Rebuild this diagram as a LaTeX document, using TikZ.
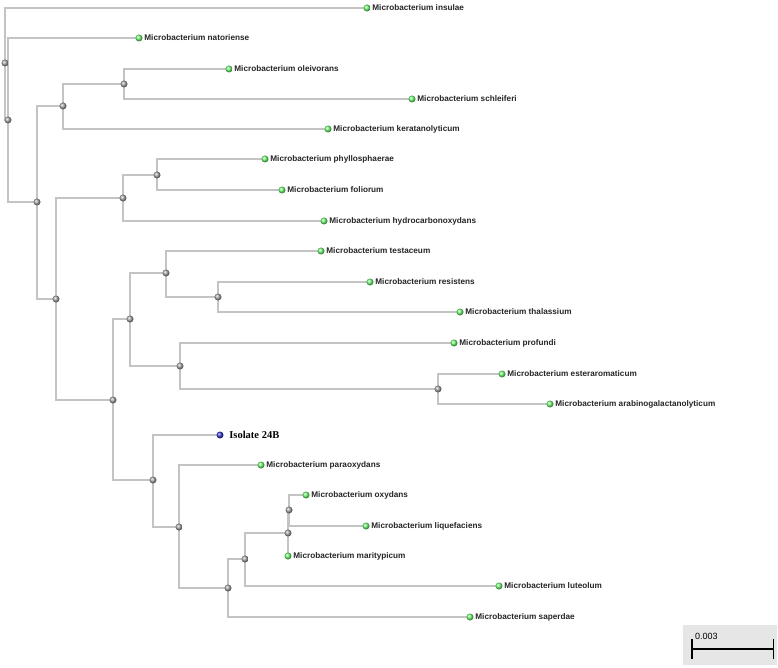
\documentclass[tikz,border=0pt]{standalone}
\usepackage{fontspec}
\setmainfont{Liberation Sans}
\newfontfamily\isofont{Liberation Serif}
\usetikzlibrary{arrows.meta}

\definecolor{branchgray}{HTML}{C4C4C4}
\definecolor{leafgreen}{HTML}{70FF70}
\definecolor{isoblue}{HTML}{3838D0}
\definecolor{nodegray}{HTML}{A8A8A8}
\definecolor{barbox}{HTML}{E6E6E6}

\pgfdeclarelayer{branches}
\pgfsetlayers{branches,main}

\tikzset{
  inner/.style={circle,inner sep=0pt,minimum size=7pt,ball color=nodegray},
  leaf/.style={circle,inner sep=0pt,minimum size=7pt,ball color=leafgreen,label distance=3pt},
  lab/.style={font=\bfseries\fontsize{8.2}{9}\selectfont,inner sep=1.5pt,text=black!85},
  isolab/.style={font=\isofont\bfseries\fontsize{10.5}{12}\selectfont,inner sep=1.5pt,xshift=4pt}
}

\begin{document}
\begin{tikzpicture}[x=1pt,y=-1pt]
\useasboundingbox (0,0) rectangle (778,668);

\begin{scope}[every node/.style={inner}]
    \node (n1) at (5,63) {};
    \node (n2) at (8,120) {};
    \node (n3) at (37,202) {};
    \node (n4) at (63,106) {};
    \node (n5) at (124,84) {};
    \node (n6) at (56,299) {};
    \node (n7) at (123,198) {};
    \node (n8) at (157,175) {};
    \node (n9) at (113,400) {};
    \node (n10) at (130,319) {};
    \node (n11) at (166,273) {};
    \node (n12) at (218,297) {};
    \node (n13) at (180,366) {};
    \node (n14) at (438,389) {};
    \node (n15) at (153,480) {};
    \node (n16) at (179,527) {};
    \node (n17) at (228,588) {};
    \node (n18) at (245,559) {};
    \node (n19) at (288,533) {};
    \node (n20) at (289,510) {};
\end{scope}

% leaves
\node[leaf,label={[lab]right:Microbacterium insulae}] (insulae) at (367,8) {};
\node[leaf,label={[lab]right:Microbacterium natoriense}] (natoriense) at (139,38) {};
\node[leaf,label={[lab]right:Microbacterium oleivorans}] (oleivorans) at (229,69) {};
\node[leaf,label={[lab]right:Microbacterium schleiferi}] (schleiferi) at (412,99) {};
\node[leaf,label={[lab]right:Microbacterium keratanolyticum}] (keratano) at (328,129) {};
\node[leaf,label={[lab]right:Microbacterium phyllosphaerae}] (phyllo) at (265,159) {};
\node[leaf,label={[lab]right:Microbacterium foliorum}] (foliorum) at (282,190) {};
\node[leaf,label={[lab]right:Microbacterium hydrocarbonoxydans}] (hydrocarb) at (324,221) {};
\node[leaf,label={[lab]right:Microbacterium testaceum}] (testaceum) at (321,251) {};
\node[leaf,label={[lab]right:Microbacterium resistens}] (resistens) at (370,282) {};
\node[leaf,label={[lab]right:Microbacterium thalassium}] (thalassium) at (460,312) {};
\node[leaf,label={[lab]right:Microbacterium profundi}] (profundi) at (454,343) {};
\node[leaf,label={[lab]right:Microbacterium esteraromaticum}] (esterarom) at (502,374) {};
\node[leaf,label={[lab]right:Microbacterium arabinogalactanolyticum}] (arabino) at (550,404) {};
\node[leaf,ball color=isoblue,label={[isolab]right:Isolate 24B}] (iso24b) at (220,435) {};
\node[leaf,label={[lab]right:Microbacterium paraoxydans}] (paraoxydans) at (261,465) {};
\node[leaf,label={[lab]right:Microbacterium oxydans}] (oxydans) at (306,495) {};
\node[leaf,label={[lab]right:Microbacterium liquefaciens}] (liquefaciens) at (366,526) {};
\node[leaf,label={[lab]right:Microbacterium maritypicum}] (maritypicum) at (288,556) {};
\node[leaf,label={[lab]right:Microbacterium luteolum}] (luteolum) at (499,586) {};
\node[leaf,label={[lab]right:Microbacterium saperdae}] (saperdae) at (470,617) {};

\begin{pgfonlayer}{branches}
\fill[white] (0,0) rectangle (778,668);
\begin{scope}[every edge/.style={draw=branchgray,line width=1.4pt,
              to path={(\tikztostart.center) |- (\tikztotarget.center)}}]
    \path (n1) edge (insulae) edge (n2);
    \path (n2) edge (natoriense) edge (n3);
    \path (n3) edge (n4) edge (n6);
    \path (n4) edge (n5) edge (keratano);
    \path (n5) edge (oleivorans) edge (schleiferi);
    \path (n6) edge (n7) edge (n9);
    \path (n7) edge (n8) edge (hydrocarb);
    \path (n8) edge (phyllo) edge (foliorum);
    \path (n9) edge (n10) edge (n15);
    \path (n10) edge (n11) edge (n13);
    \path (n11) edge (testaceum) edge (n12);
    \path (n12) edge (resistens) edge (thalassium);
    \path (n13) edge (profundi) edge (n14);
    \path (n14) edge (esterarom) edge (arabino);
    \path (n15) edge (iso24b) edge (n16);
    \path (n16) edge (paraoxydans) edge (n17);
    \path (n17) edge (n18) edge (saperdae);
    \path (n18) edge (n19) edge (luteolum);
    \path (n19) edge (n20) edge (maritypicum);
    \path (n20) edge (oxydans) edge (liquefaciens);
\end{scope}
\end{pgfonlayer}

% scale bar
\node[fill=barbox,minimum width=94pt,minimum height=40pt,inner sep=0pt] (scalebox) at (730,645) {};
\coordinate (sb1) at (691,649);
\coordinate (sb2) at (774,649);
\draw[line width=1.5pt,{Bar[width=20pt]}-{Bar[width=20pt]}] (sb1) -- (sb2);
\node[anchor=south west,inner sep=0pt,font=\fontsize{9}{10}\selectfont] (sblabel) at (695,640) {0.003};
\end{tikzpicture}
\end{document}
